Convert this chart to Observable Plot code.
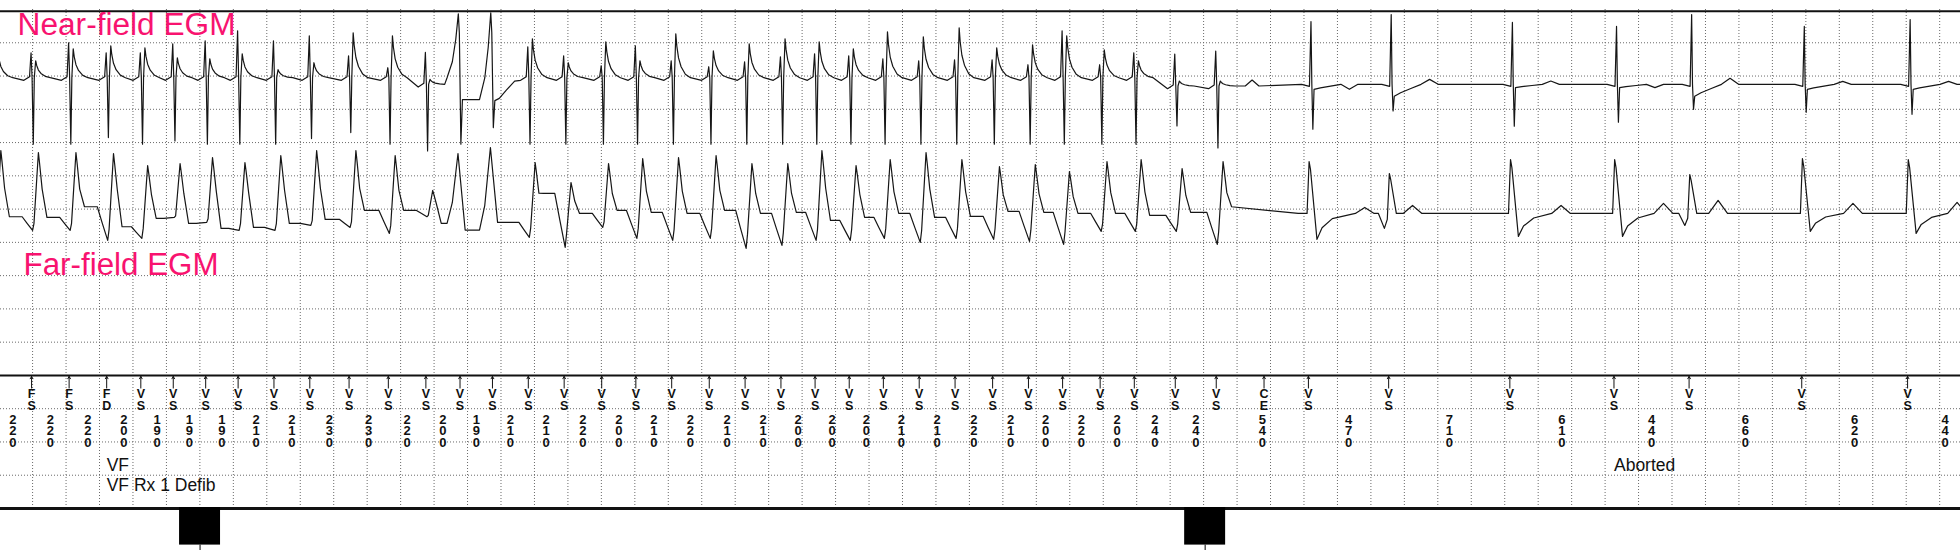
<!DOCTYPE html>
<html>
<head>
<meta charset="utf-8">
<script src="https://cdn.jsdelivr.net/npm/d3@7"></script>
<script src="https://cdn.jsdelivr.net/npm/@observablehq/plot@0.6"></script>
<style>
  html, body { margin: 0; padding: 0; background: #fff; }
  #chart { width: 1960px; height: 550px; overflow: hidden; }
</style>
</head>
<body>
<div id="chart"></div>
<script>
// ---------------- DATA ----------------
// Interval values (ms) printed on the marker channel, left to right
const intervals = [220,220,220,200,190,190,190,210,210,230,230,220,200,190,
  210,210,220,200,210,220,210,210,200,200,200,210,210,220,
  210,200,220,200,240,240,540,470,710,
  610,440,660,620,440];

// Marker annotations for markers 1..41 (marker 0 is off the left edge)
const markerCodes = ["FS","FS","FD",
  "VS","VS","VS","VS","VS","VS","VS","VS","VS","VS",
  "VS","VS","VS","VS","VS","VS","VS","VS","VS","VS",
  "VS","VS","VS","VS","VS","VS","VS","VS","VS","VS",
  "VS","VS","VS","VS","VS","VS","VS","VS"];
// Extra (non-sensed) marker: charge end
const extraMarkerCodes = ["CE"];
const extraMarkerTimes = [7220];

// Text annotations below the marker channel, anchored on marker indices
const noteTexts = ["VF", "VF Rx 1 Defib", "Aborted"];
const noteMarker = [3, 3, 38];
const noteRow = [0, 1, 0];

// Channel titles
const channelTitles = ["Near-field EGM", "Far-field EGM"];

// Event blocks under the strip (ms)
const eventTimes = [987, 6875];

// Beat morphology per beat (beats 0..41 at markers 0..41)
// v = VF complex, w = wide complex, s = sinus complex
const kinds = ["v","v","v","v","v","v","v","v","v","v","v","v","v",
  "w","w",
  "v","v","v","v","v","v","v","v","v","v","v","v","v","v","v","v","v","v","v","v",
  "s","s","s","s","s","s","s"];

// Near-field channel amplitudes (grid boxes): first upstroke, downstroke, after-value
const nfPre = [0.9,0.75,1.05,0.75,0.75,1.02,1.11,1.41,1.11,1.26,0.66,0.3,0.96,
  1.92,1.95,
  0.93,0.66,0.36,0.96,0.51,0.33,0.48,0.63,0.72,0.66,0.57,0.51,0.54,0.54,0.39,1.41,0.39,0.75,0.96,1.05,
  1.89,2.1,1.86,1.74,2.1,1.74,1.95];
const nfDown = [2,2,2,1.8,2,1.9,2,2,2,1.83,1.65,2,2,
  2,1.5,
  2,2,2,2,2,2,2,2,2,2,2,2,2,2,2,2,2,2,1.2,1.86,
  1.35,0.8,1.26,1.14,0.75,0.84,0.9];
const nfPost = [0.75,0.51,0.87,0.96,0.9,0.6,0.57,0.72,0.24,0.45,1.35,1.26,0.15,
  -0.66,-0.69,
  1.17,0.45,1.08,0.51,1.32,0.81,1.02,1.17,1.08,0.87,1.38,1.23,1.5,0.9,0.99,1.26,0.84,0.51,0.15,0.15,
  -0.15,-0.36,-0.1,-0.1,-0.36,-0.15,-0.15];
const nfTwave = [0,0,0,0,0,0,0,0,0,0,0,0,0,
  0,0,
  0,0,0,0,0,0,0,0,0,0,0,0,0,0,0,0,0,0,0,0.18,
  -0.15,0.15,0.1,-0.1,0.18,0.09,0.09];
const nfShift = [0,0,0,0,0,0,0,0,0,0,0,0,-0.2,
  0,0,
  0,0,0,0,0,0,0,0,0,0,0,0,0,0,0,0,0,0,-0.25,-0.25,
  -0.2,-0.2,-0.2,-0.2,-0.2,-0.2,-0.2];

// Far-field channel amplitudes (grid boxes): peak, trough, level after the beat
const ffPeak = [1.89,1.83,1.83,1.8,1.44,1.5,1.68,1.53,1.74,1.89,1.89,1.74,0.69,
  1.8,1.98,
  1.53,0.93,1.5,1.65,1.68,1.74,1.5,1.5,1.89,1.44,1.62,1.83,1.62,1.41,1.47,1.26,1.56,1.62,1.35,1.56,
  1.56,1.2,1.62,1.62,1.17,1.65,1.62];
const ffTrough = [0.5,0.51,0.51,0.81,0.75,0.12,0.27,0.51,0.51,0.36,0.42,0.6,0.1,
  0,0,
  0.72,1.02,0.42,0.75,0.81,0.75,1.05,0.96,0.81,0.81,0.75,0.87,0.75,0.78,0.84,0.93,0.54,0.54,0.54,0.93,
  0.78,0,0.69,0.69,0,0.54,0.6];
const ffAfter = [-0.1,-0.12,0.2,-0.4,-0.15,-0.3,-0.45,-0.42,-0.3,-0.18,0.09,0.09,-0.3,
  -0.5,-0.27,
  0.6,0,0.09,0.03,0,0.09,0,0.03,-0.21,-0.12,0,-0.12,-0.09,0.06,0.03,0,0,-0.06,0.03,0.2,
  0.18,0.24,0.24,0.3,0.39,0.3,0.33];
// Sinus beats (35..41): dip before the complex, time of the late wave (ms)
const ffSinusPreDip = [0,-0.45,0,0,-0.36,0,0];
const ffSinusBumpTime = [330,140,300,290,170,300,290];

// ---------------- LAYOUT ----------------
const X_DOMAIN = [-182, 11300];      // ms
const Y_DOMAIN = [0, 15];            // grid boxes, 0 at top
const GRID_STEP = 196, GRID_START = 6;
const NF_BASE = 2.05, FF_BASE = 6.13, MARKER_LINE = 11;
const PINK = "#f8136f";
const FONT = "'Liberation Sans', Arial, Helvetica, sans-serif";

// ---------------- BUILD ----------------
const markerT = [-220];
intervals.forEach((v, k) => markerT.push(markerT[k] + v));
const firstSinus = kinds.indexOf("s");

function nfShape(i) {
  const k = kinds[i], a = nfPre[i], d = nfDown[i], p = nfPost[i], tw = nfTwave[i];
  if (k === "v") {
    const s = [[-45,-0.08],[-12,0.03],[-3,a],[3,0],[10,-d],[16,0],[24,p],[30,0.72*p],[40,0.45*p],[55,0.25*p],[80,0.08*p],[110,0]];
    if (tw) s.push([170,0],[210,tw],[250,0]);
    return s;
  }
  if (k === "w") {
    const q = kinds[i-1] === "w" ? nfPost[i-1] : 0;
    const s = [[-76,q],[-45,q+(a-q)*0.25],[-25,q+(a-q)*0.6],[-10,a],[-4,0.7*a],[5,-d],[14,p]];
    if (kinds[i+1] === "w") s.push([100,p]);
    else s.push([40,0.9*p],[80,0.55*p],[130,0.15*p],[170,0]);
    return s;
  }
  const s = [[-40,0],[6,-0.06],[15,a],[20,0],[26,-d],[33,p],[70,0.7*p],[130,0.35*p],[190,0]];
  if (tw) s.push([240,tw],[290,0]);
  return s;
}

function ffShape(i) {
  const k = kinds[i], pk = ffPeak[i], tr = ffTrough[i], pl = ffAfter[i];
  const q = i > 0 && kinds[i-1] !== "s" ? ffAfter[i-1] : 0;
  if (k === "v") return [[-55,q],[-25,(q-tr)/2],[6,-tr],[14,-0.6*tr],[40,pk],[47,0.82*pk],[62,0.4*pk],[90,pl]];
  if (k === "w") return [[-76,q],[-45,q+(pk-q)*0.3],[-12,pk],[30,pl]];
  const j = i - firstSinus, pd = ffSinusPreDip[j], bt = ffSinusBumpTime[j];
  const s = [[-60,0],[-25,pd],[-8,0.4*pd],[4,pk],[12,0.85*pk]];
  if (tr > 0) s.push([50,-tr],[80,-0.55*tr],[140,-0.2*tr]); else s.push([45,0]);
  s.push([bt-55,0],[bt,pl],[bt+55,0]);
  return s;
}

function trace(shapeFn, base, shift) {
  const beats = kinds.map((_, i) => shapeFn(i).map(([dt, v]) => ({t: markerT[i] + dt, v: v + (shift ? shift[i] : 0)})));
  const out = [];
  beats.forEach((b, i) => {
    const lim = i + 1 < beats.length ? beats[i+1][0].t : Infinity;
    b.forEach(p => { if (p.t < lim) out.push(p); });
  });
  out.push({t: X_DOMAIN[1] + 60, v: out[out.length-1].v});
  return out.map(p => ({t: p.t, u: base - p.v}));
}

const nfTrace = trace(nfShape, NF_BASE, nfShift);
const ffTrace = trace(ffShape, FF_BASE, null);

const markers = markerCodes.map((c, i) => ({t: markerT[i+1], code: c}))
  .concat(extraMarkerCodes.map((c, i) => ({t: extraMarkerTimes[i], code: c})));
const intervalLabels = intervals.map((v, k) => ({t: (markerT[k] + markerT[k+1]) / 2, v}));
const notes = noteTexts.map((s, i) => ({text: s, t: markerT[noteMarker[i]], row: noteRow[i]}));
const titles = channelTitles.map((s, i) => ({text: s, t: i === 0 ? -82 : -47, u: i === 0 ? 0.78 : 7.97, len: i === 0 ? 218 : 195}));

const gridX = d3.range(GRID_START, X_DOMAIN[1], GRID_STEP);
const gridY = d3.range(1, 15).filter(u => u !== MARKER_LINE);

const chart = Plot.plot({
  width: 1960, height: 550,
  marginTop: 0, marginBottom: 0, marginLeft: 0, marginRight: 0,
  x: {domain: X_DOMAIN, range: [0, 1960], axis: null},
  y: {domain: Y_DOMAIN, range: [9, 508], axis: null},
  style: {background: "#fff", fontFamily: FONT, overflow: "hidden"},
  marks: [
    Plot.ruleX(gridX, {x: d => d, y1: () => 0, y2: () => 15, stroke: "#6a6a6a", strokeWidth: 1, strokeDasharray: "1,2"}),
    Plot.ruleY(gridY, {y: d => d, stroke: "#6a6a6a", strokeWidth: 1, strokeDasharray: "1,2"}),
    Plot.ruleY([0.05, MARKER_LINE], {y: d => d, stroke: "#111", strokeWidth: 2}),
    Plot.ruleY([15], {y: d => d, stroke: "#111", strokeWidth: 3}),
    Plot.line(nfTrace, {x: "t", y: "u", stroke: "#161616", strokeWidth: 1.2}),
    Plot.line(ffTrace, {x: "t", y: "u", stroke: "#161616", strokeWidth: 1.2}),
    Plot.text(titles, {x: "t", y: "u", text: "text", fill: PINK, fontSize: 31, textAnchor: "start", lineAnchor: "bottom"}),
    Plot.arrow(markers, {x1: "t", x2: "t", y1: () => 11.38, y2: () => 11.03, stroke: "#111", strokeWidth: 1, headLength: 4}),
    Plot.text(markers, {x: "t", y: () => 11.43, text: d => d.code.split("").join("\n"), fontSize: 12.5, fontWeight: "bold", lineHeight: 0.93, lineAnchor: "top", fill: "#111"}),
    Plot.text(intervalLabels, {x: "t", y: () => 12.2, text: d => String(d.v).split("").join("\n"), fontSize: 13, fontWeight: "bold", lineHeight: 0.9, lineAnchor: "top", fill: "#111"}),
    Plot.text(notes, {x: "t", y: d => 13.86 + d.row * 0.6, text: "text", fontSize: 17.5, textAnchor: "start", lineAnchor: "bottom", fill: "#111"}),
    Plot.rect(eventTimes, {x1: d => d - 120, x2: d => d + 120, y1: () => 14.97, y2: () => 16.1, fill: "#000"}),
    Plot.ruleX(eventTimes, {x: d => d, y1: () => 16.1, y2: () => 16.6, stroke: "#000", strokeWidth: 1})
  ]
});
// stretch channel titles to the width they have on the strip
d3.select(chart).selectAll("text").each(function() {
  const title = titles.find(tt => tt.text === this.textContent.trim());
  if (title) d3.select(this).attr("textLength", title.len).attr("lengthAdjust", "spacingAndGlyphs");
});
document.getElementById("chart").appendChild(chart);
</script>
</body>
</html>
